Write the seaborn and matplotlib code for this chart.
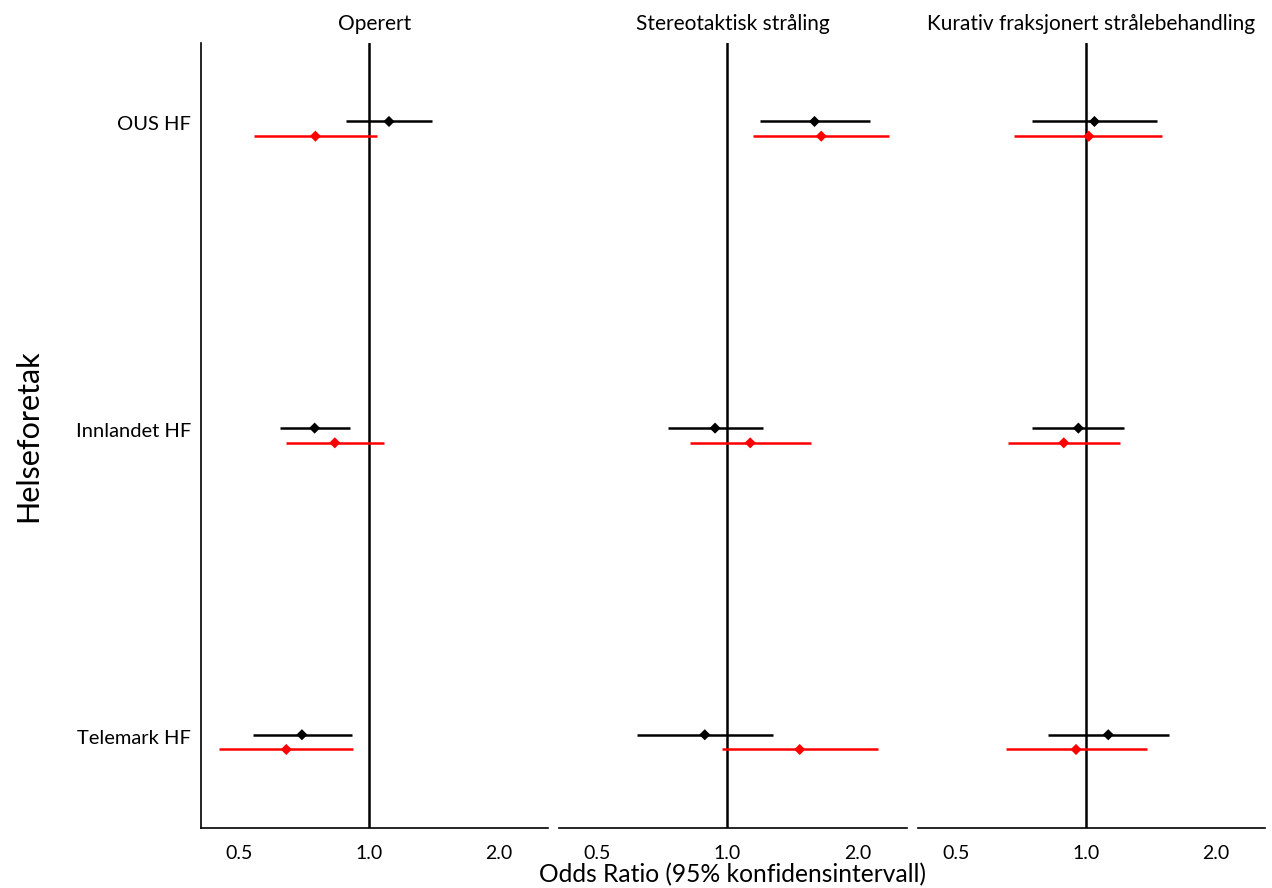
import numpy as np
import pandas as pd
import seaborn as sns
import matplotlib.pyplot as plt
from matplotlib.ticker import FixedLocator, NullLocator

panels = ["Operert", "Stereotaktisk stråling", "Kurativ fraksjonert strålebehandling"]
units = ["OUS HF", "Innlandet HF", "Telemark HF"]

# odds ratio og KI per panel, i rekkefølgen til units
black_or = [[1.112, 0.748, 0.699], [1.591, 0.936, 0.886], [1.047, 0.961, 1.127]]
black_lo = [[0.882, 0.623, 0.538], [1.187, 0.727, 0.618], [0.752, 0.750, 0.817]]
black_hi = [[1.397, 0.901, 0.911], [2.135, 1.210, 1.275], [1.465, 1.228, 1.557]]
red_or = [[0.751, 0.833, 0.643], [1.649, 1.129, 1.470], [1.016, 0.889, 0.949]]
red_lo = [[0.540, 0.641, 0.448], [1.149, 0.818, 0.973], [0.680, 0.660, 0.653]]
red_hi = [[1.045, 1.082, 0.920], [2.367, 1.563, 2.232], [1.502, 1.197, 1.384]]


rows = []
for p, panel in enumerate(panels):
    for u, unit in enumerate(units):
        rows.append([panel, unit, u - 0.024, 'black', black_or[p][u], black_lo[p][u], black_hi[p][u]])
        rows.append([panel, unit, u + 0.024, 'red', red_or[p][u], red_lo[p][u], red_hi[p][u]])
df = pd.DataFrame(rows, columns=['panel', 'unit', 'ypos', 'serie', 'or', 'lo', 'hi'])

sns.set_style('white')
plt.rcParams['font.family'] = ['Lato', 'DejaVu Sans']
plt.rcParams['text.color'] = 'black'
plt.rcParams['axes.labelcolor'] = 'black'


def draw(data, **kws):
    ax = plt.gca()
    ax.axvline(1.0, color='black', lw=1.8, zorder=1)
    for col, d in data.groupby('serie'):
        ax.hlines(d['ypos'], d['lo'], d['hi'], color=col, lw=1.8, zorder=2)
    sns.scatterplot(data=data, x='or', y='ypos', hue='serie',
                    palette={'black': 'black', 'red': 'red'}, marker='D',
                    s=32, linewidth=0, legend=False, zorder=3, ax=ax)


g = sns.FacetGrid(df, col='panel', col_order=panels, sharex=True, sharey=True,
                  height=8.88, aspect=1272 / 888 / 3)
g.map_dataframe(draw)
g.figure.set_size_inches(12.72, 8.88)
g.figure.subplots_adjust(left=0.158, right=0.9945, top=0.9516, bottom=0.0676, wspace=0.032)

for i, ax in enumerate(g.axes.flat):
    ax.set_xscale('log')
    ax.set_xlim(0.408, 2.6)
    ax.xaxis.set_major_locator(FixedLocator([0.5, 1.0, 2.0]))
    ax.xaxis.set_minor_locator(NullLocator())
    ax.set_xticklabels(['0.5', '1.0', '2.0'])
    ax.set_ylim(2.28, -0.28)
    ax.set_yticks([u - 0.018 for u in range(len(units))])
    ax.set_yticklabels(units)
    ax.tick_params(length=0, labelsize=14.5, labelcolor='black')
    ax.tick_params(axis='x', pad=12, labelsize=14)
    ax.tick_params(axis='y', pad=7)
    ax.set_title(panels[i], fontsize=15, pad=9, color='black')
    ax.set_xlabel('')
    ax.set_ylabel('')
    for s in ['top', 'right']:
        ax.spines[s].set_visible(False)
    ax.spines['bottom'].set_color('black')
    ax.spines['bottom'].set_linewidth(1.2)
    if i == 0:
        ax.spines['left'].set_color('black')
        ax.spines['left'].set_linewidth(1.2)
        ax.set_ylabel('Helseforetak', fontsize=22, labelpad=24)
    else:
        ax.spines['left'].set_visible(False)

g.axes.flat[1].set_xlabel('Odds Ratio (95% konfidensintervall)', fontsize=17.7, labelpad=1)

g.figure.savefig('out.png', dpi=100)
